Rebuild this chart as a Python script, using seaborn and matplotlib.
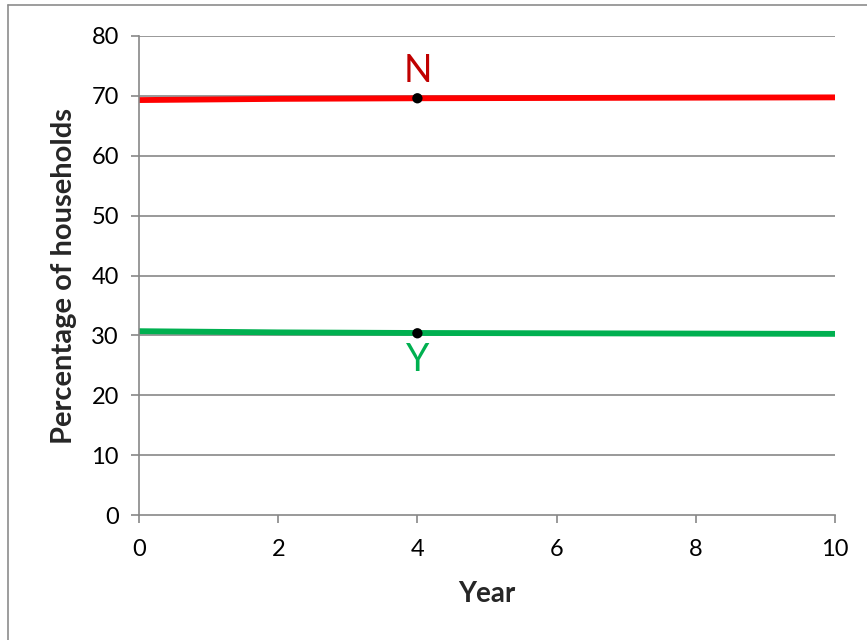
import matplotlib
matplotlib.use("Agg")
import matplotlib.pyplot as plt
from matplotlib.lines import Line2D
import seaborn as sns
import pandas as pd

# Share of households in each state over time
years = [0, 2, 4, 6, 8, 10]
share_n = [69.3, 69.5, 69.6, 69.65, 69.7, 69.75]
share_y = [30.7, 30.5, 30.4, 30.35, 30.3, 30.25]

# Highlighted year with labelled markers
mark_year = 4
mark_n = 69.6
mark_y = 30.35

x_ticks = [0, 2, 4, 6, 8, 10]
y_ticks = [0, 10, 20, 30, 40, 50, 60, 70, 80]

sns.set_theme(style="white")
plt.rcParams["font.family"] = ["Lato", "DejaVu Sans"]

df = pd.DataFrame({
    "Year": years * 2,
    "Percentage": share_n + share_y,
    "State": ["N"] * len(years) + ["Y"] * len(years),
})

fig = plt.figure(figsize=(8.67, 6.4), dpi=100)
ax = fig.add_axes([139 / 867, 1 - 515 / 640, (835 - 139) / 867, (515 - 36) / 640])

grid_col = "#878787"
for t in y_ticks[1:]:
    ax.axhline(t, color=grid_col, lw=1.2, zorder=0)

sns.lineplot(data=df, x="Year", y="Percentage", hue="State",
             palette={"N": "#FF0000", "Y": "#00B050"},
             linewidth=4.2, legend=False, ax=ax, solid_capstyle="round")

marks = pd.DataFrame({"Year": [mark_year, mark_year], "Percentage": [mark_n, mark_y]})
sns.scatterplot(data=marks, x="Year", y="Percentage", color="black", s=55,
                edgecolor="none", zorder=5, ax=ax)

ax.text(mark_year, mark_n + 4.6, "N", color="#C00000", fontsize=27,
        ha="center", va="center")
ax.text(mark_year, mark_y - 4.4, "Y", color="#00B050", fontsize=27,
        ha="center", va="center")

ax.set_xlim(0, 10)
ax.set_ylim(0, 80)
ax.set_xticks(x_ticks)
ax.set_yticks(y_ticks)
ax.tick_params(axis="both", labelsize=17, colors=grid_col, labelcolor="black",
               direction="out", length=5.5, width=1.2, bottom=True, left=True)
ax.tick_params(axis="x", pad=12)
ax.tick_params(axis="y", pad=9)

for side in ["top", "right"]:
    ax.spines[side].set_visible(False)
for side in ["left", "bottom"]:
    ax.spines[side].set_color(grid_col)
    ax.spines[side].set_linewidth(1.2)

ax.set_xlabel("Year", fontsize=20, fontweight="bold", labelpad=15)
ax.set_ylabel("Percentage of households", fontsize=21, fontweight="bold", labelpad=10)

# Chart frame (top and left edges)
fig.add_artist(Line2D([8 / 867, 8 / 867], [0, 1 - 5 / 640], transform=fig.transFigure,
                      color="#8c8c8c", lw=1.2))
fig.add_artist(Line2D([8 / 867, 1], [1 - 5 / 640, 1 - 5 / 640], transform=fig.transFigure,
                      color="#8c8c8c", lw=1.2))

fig.savefig("out.png", dpi=100)
